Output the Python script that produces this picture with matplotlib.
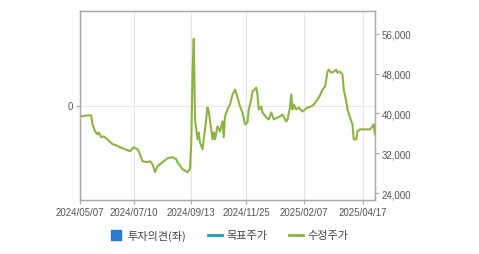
import matplotlib
matplotlib.use("Agg")
import matplotlib.pyplot as plt
from matplotlib.lines import Line2D
from matplotlib.ticker import FuncFormatter

plt.rcParams['font.family'] = ['Liberation Sans', 'Noto Sans CJK KR']

# trading-day offset from 2024/05/07 and adjusted close (수정주가)
days = [0, 2, 5, 9, 10, 12, 14, 15, 17, 19, 22, 26, 29, 32, 36, 40, 43, 46, 47,
        50, 54, 56, 58, 60, 62, 66, 70, 74, 77, 78, 82, 86, 88, 89, 90, 91, 92,
        93, 94, 95, 96, 98, 100, 102, 103, 105, 106, 107, 108, 110, 112, 114,
        115, 116, 118, 120, 122, 124, 126, 128, 130, 132, 134, 135, 137, 138,
        141, 142, 143, 145, 146, 149, 151, 153, 155, 158, 160, 162, 165, 166,
        168, 169, 170, 171, 173, 175, 178, 180, 182, 185, 187, 190, 192, 194,
        196, 197, 198, 199, 201, 203, 205, 206, 208, 210, 211, 213, 214, 216,
        218, 219, 221, 222, 224, 232, 234, 235, 236]
price = [39600, 39400, 39600, 39600, 37800, 36400, 35800, 36200, 35200, 35400,
         34800, 33800, 33600, 33200, 32800, 32400, 33200, 32800, 32400,
         30400, 30200, 30400, 29800, 28200, 29400, 30200, 31000, 31200, 30800,
         30200, 28800, 28200, 28800, 34000, 48000, 55000, 38800,
         36800, 34800, 36200, 34200, 32800, 36800, 41200, 40400, 36800, 34800,
         36200, 34800, 37400, 36400, 38400,
         35200, 39400, 40800, 41800, 43800, 44800, 43200, 41400, 40200, 37800,
         38200, 40800, 42800, 44400,
         45200, 43800, 40800, 41400, 40200, 39200, 38800, 40200, 38800, 39200,
         39400, 39800, 38400, 38800,
         41200, 43800, 40800, 41800, 40800, 41200, 40400, 40800, 41200, 41400,
         41800, 42800, 43600, 44800,
         45400, 46800, 48400, 48800, 48200, 48400, 48800, 48200, 48400, 47800,
         44800, 42400, 40800, 39200,
         37800, 34800, 34800, 36400, 36800, 36800, 37400, 37800, 35800]

tick_days = [0, 43, 89, 133, 179, 226]
tick_labels = ['2024/05/07', '2024/07/10', '2024/09/13', '2024/11/25',
               '2025/02/07', '2025/04/17']
price_ticks = [24000, 32000, 40000, 48000, 56000]

green = '#8cb443'
spine_c = '#aaaaaa'
grid_c = '#e6e6e6'
text_c = '#555555'

fig = plt.figure(figsize=(4.79, 2.55), dpi=100)
ax = fig.add_axes([80/479, 54/255, 295/479, 189/255])
ax2 = ax.twinx()

ax.set_xlim(0, 236)
ax.set_ylim(-1, 1)
ax.set_yticks([0])
ax.set_xticks(tick_days)
ax.set_xticklabels(tick_labels)
ax.grid(True, color=grid_c, linewidth=0.8)
ax.set_axisbelow(True)

ax2.plot(days, price, color=green, linewidth=1.5, solid_joinstyle='round')
ax2.set_ylim(22600, 60600)
ax2.set_yticks(price_ticks)
ax2.yaxis.set_major_formatter(FuncFormatter(lambda v, p: f'{int(v):,}'))

for a in (ax, ax2):
    for s in a.spines.values():
        s.set_color(spine_c)
        s.set_linewidth(0.9)
    a.tick_params(colors=spine_c, labelcolor=text_c, labelsize=7,
                  length=3, width=0.8, pad=2)

handles = [
    Line2D([], [], marker='s', linestyle='none', color='#2a7ad5', markersize=7),
    Line2D([], [], color='#1aa0b4', linewidth=2),
    Line2D([], [], color=green, linewidth=2),
]
fig.legend(handles, ['투자의견(좌)', '목표주가', '수정주가'], loc='center',
           bbox_to_anchor=(229/479, 19/255), ncol=3, frameon=False,
           handlelength=1.2, handletextpad=0.4,
           columnspacing=2.0, labelcolor='#444444',
           prop={'family': ['Noto Sans CJK KR'], 'size': 8})

fig.savefig('out.png', dpi=100)
